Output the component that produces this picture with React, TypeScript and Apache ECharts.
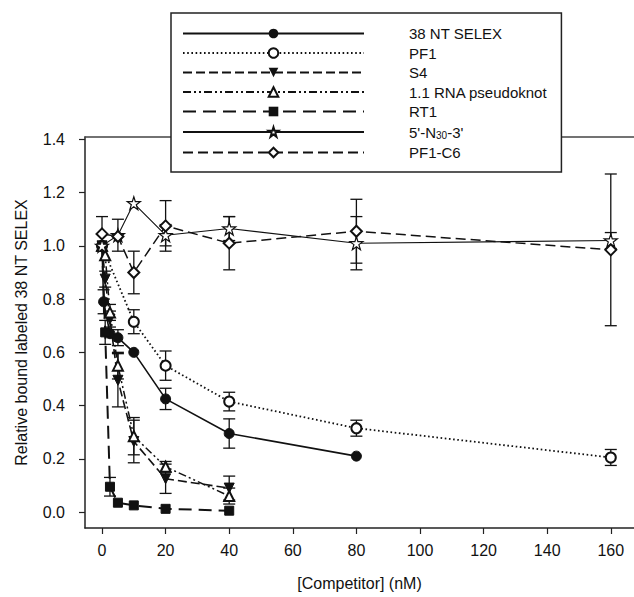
import React, { useEffect, useRef } from 'react';
import * as echarts from 'echarts';

const FONT = "'Liberation Sans', Arial, Helvetica, sans-serif";

// Axis ticks
const xTicks = [0, 20, 40, 60, 80, 100, 120, 140, 160];
const yTicks = [0, 0.2, 0.4, 0.6, 0.8, 1.0, 1.2, 1.4];

// Series names
const names = ['38 NT SELEX', 'PF1', 'S4', '1.1 RNA pseudoknot', 'RT1', "5'-N30-3'", 'PF1-C6'];

// 38 NT SELEX
const selX = [0, 0.5, 2.5, 5, 10, 20, 40, 80];
const selY = [1.0, 0.79, 0.67, 0.655, 0.6, 0.425, 0.295, 0.21];
const selE = [0, 0.045, 0, 0.03, 0, 0.04, 0.055, 0];

// PF1
const pf1X = [0, 10, 20, 40, 80, 160];
const pf1Y = [1.0, 0.715, 0.55, 0.415, 0.315, 0.205];
const pf1E = [0, 0.045, 0.055, 0.035, 0.03, 0.03];

// S4
const s4X = [0, 1, 2.5, 5, 10, 20, 40];
const s4Y = [1.0, 0.875, 0.725, 0.495, 0.265, 0.125, 0.09];
const s4E = [0, 0.03, 0.03, 0.1, 0.08, 0.055, 0.045];

// 1.1 RNA pseudoknot
const rnaX = [0, 1, 2.5, 5, 10, 20, 40];
const rnaY = [1.0, 0.965, 0.75, 0.55, 0.285, 0.17, 0.06];
const rnaE = [0, 0, 0.03, 0.05, 0.07, 0.02, 0.03];

// RT1
const rt1X = [0, 1, 2.5, 5, 10, 20, 40];
const rt1Y = [1.0, 0.675, 0.095, 0.035, 0.025, 0.012, 0.005];
const rt1E = [0, 0.045, 0.035, 0, 0, 0, 0];

// 5'-N30-3'
const n30X = [0, 5, 10, 20, 40, 80, 160];
const n30Y = [1.0, 1.04, 1.16, 1.04, 1.065, 1.01, 1.02];
const n30E = [0, 0.06, 0, 0.04, 0.045, 0.1, 0.03];

// PF1-C6
const c6X = [0, 5, 10, 20, 40, 80, 160];
const c6Y = [1.045, 1.035, 0.9, 1.075, 1.01, 1.055, 0.985];
const c6E = [0.065, 0, 0.08, 0.095, 0.1, 0.12, 0.285];

const STAR = 'path://M50,2 L61,36 L97,36 L68,57 L79,92 L50,71 L21,92 L32,57 L3,36 L39,36 Z';

const pairs = (xs: number[], ys: number[]) => xs.map((x, i) => [x, ys[i]]);
const errs = (xs: number[], ys: number[], es: number[]) =>
  xs.map((x, i) => (es[i] > 0 ? [x, ys[i] - es[i], ys[i] + es[i]] : null)).filter(Boolean) as number[][];

export default function App() {
  const ref = useRef<HTMLDivElement>(null);
  useEffect(() => {
    if (!ref.current) return;
    const chart = echarts.init(ref.current, undefined, { renderer: 'svg' });
    const errData = [
      ...errs(selX, selY, selE),
      ...errs(pf1X, pf1Y, pf1E),
      ...errs(s4X, s4Y, s4E),
      ...errs(rnaX, rnaY, rnaE),
      ...errs(rt1X, rt1Y, rt1E),
      ...errs(n30X, n30Y, n30E),
      ...errs(c6X, c6Y, c6E),
    ];
    const line = (name: string, data: number[][], symbol: string, size: number, type: any, width: number, extra: any = {}) => ({
      name,
      type: 'line',
      data,
      symbol,
      symbolSize: size,
      z: 3,
      lineStyle: { color: '#111', width, type },
      itemStyle: { color: '#111', borderColor: '#111' },
      ...extra,
    });
    chart.setOption({
      animation: false,
      backgroundColor: '#fff',
      textStyle: { fontFamily: FONT },
      grid: { left: 85, top: 137, right: 0, bottom: 69 },
      legend: {
        data: names,
        orient: 'vertical',
        left: 171,
        top: 13,
        padding: [13, 14, 12, 11],
        itemWidth: 181,
        itemHeight: 12,
        itemGap: 4.5,
        borderColor: '#222',
        borderWidth: 1.5,
        backgroundColor: '#fff',
        selectedMode: false,
        formatter: (n: string) => '{g|}' + (n === "5'-N30-3'" ? "5'-N{sub|30}-3'" : n),
        textStyle: {
          fontSize: 15,
          lineHeight: 12,
          fontFamily: FONT,
          color: '#111',
          rich: {
            g: { width: 40, height: 12 },
            sub: { fontSize: 10, lineHeight: 12, fontFamily: FONT, color: '#111', padding: [7, 0, 0, 0] },
          },
        },
      },
      xAxis: [
        {
          type: 'value',
          min: -5.35,
          max: 167.3,
          name: '[Competitor] (nM)',
          nameLocation: 'middle',
          nameGap: 47,
          nameTextStyle: { fontSize: 16, color: '#111', fontFamily: FONT },
          axisLine: { onZero: false, lineStyle: { color: '#222', width: 1.5 } },
          axisTick: { inside: false, length: 6, customValues: xTicks, lineStyle: { color: '#222', width: 1.2 } },
          axisLabel: { customValues: xTicks, fontSize: 16, color: '#111', margin: 14, fontFamily: FONT },
          splitLine: { show: false },
        },
        {
          type: 'value',
          position: 'top',
          min: -5.35,
          max: 167.3,
          axisLine: { show: true, onZero: false, lineStyle: { color: '#444', width: 1.5 } },
          axisTick: { show: false },
          axisLabel: { show: false },
          splitLine: { show: false },
        },
      ],
      yAxis: {
        type: 'value',
        min: -0.06,
        max: 1.409,
        name: 'Relative bound labeled 38 NT SELEX',
        nameLocation: 'middle',
        nameGap: 56,
        nameTextStyle: { fontSize: 16, color: '#111', fontFamily: FONT },
        axisLine: { show: true, onZero: false, lineStyle: { color: '#222', width: 1.5 } },
        axisTick: { show: true, inside: false, length: 6, customValues: yTicks, lineStyle: { color: '#222', width: 1.2 } },
        axisLabel: {
          customValues: yTicks,
          fontSize: 16,
          color: '#111',
          margin: 20,
          fontFamily: FONT,
          formatter: (v: number) => v.toFixed(1),
        },
        splitLine: { show: false },
      },
      series: [
        {
          type: 'custom',
          name: 'errors',
          z: 2,
          data: errData,
          encode: { x: 0, y: [1, 2] },
          renderItem: (_p: any, api: any) => {
            const x = api.value(0);
            const lo = api.coord([x, api.value(1)]);
            const hi = api.coord([x, api.value(2)]);
            const w = 6;
            const st = { stroke: '#111', lineWidth: 1.3 };
            return {
              type: 'group',
              children: [
                { type: 'line', shape: { x1: hi[0], y1: hi[1], x2: lo[0], y2: lo[1] }, style: st },
                { type: 'line', shape: { x1: hi[0] - w, y1: hi[1], x2: hi[0] + w, y2: hi[1] }, style: st },
                { type: 'line', shape: { x1: lo[0] - w, y1: lo[1], x2: lo[0] + w, y2: lo[1] }, style: st },
              ],
            };
          },
        },
        line(names[0], pairs(selX, selY), 'circle', 10, 'solid', 1.6),
        line(names[1], pairs(pf1X, pf1Y), 'emptyCircle', 10, [1.6, 2.6], 1.8),
        line(names[2], pairs(s4X, s4Y), 'triangle', 10, [9, 4], 1.6, { symbolRotate: 180 }),
        line(names[3], pairs(rnaX, rnaY), 'emptyTriangle', 10, [8, 3, 2, 3, 2, 3], 1.5),
        line(names[4], pairs(rt1X, rt1Y), 'rect', 9, [13, 7], 2),
        line(names[5], pairs(n30X, n30Y), STAR, 13, 'solid', 1.1, {
          itemStyle: { color: '#fff', borderColor: '#111', borderWidth: 1.2 },
        }),
        line(names[6], pairs(c6X, c6Y), 'emptyDiamond', 11, [10, 5], 1.5),
      ],
    });
    return () => chart.dispose();
  }, []);
  return <div ref={ref} style={{ position: 'fixed', left: 0, top: 0, width: 634, height: 597 }} />;
}
